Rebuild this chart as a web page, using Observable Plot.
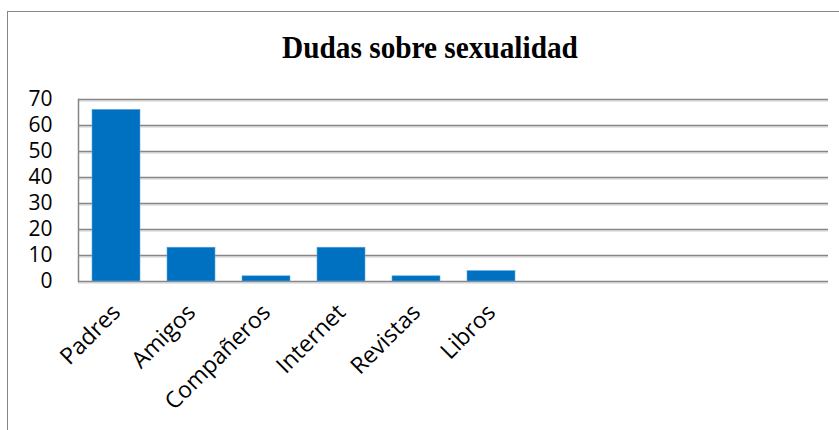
<!DOCTYPE html>
<html>
<head>
<meta charset="utf-8">
<script src="https://cdn.jsdelivr.net/npm/d3@7"></script>
<script src="https://cdn.jsdelivr.net/npm/@observablehq/plot@0.6"></script>
<style>
  html, body { margin: 0; padding: 0; background: white; }
  #wrap { position: relative; width: 839px; height: 430px; overflow: hidden; }
  #chart { position: absolute; left: 0; top: 0; }
  #border { position: absolute; left: 7px; top: 11px; width: 900px; height: 500px;
            border: 1.5px solid #868686; box-sizing: border-box; pointer-events: none; }
  #title { position: absolute; left: 0; top: 30px; width: 860px; text-align: center;
           font-family: "Liberation Serif", "Times New Roman", serif; font-weight: bold;
           font-size: 31px; line-height: 36px; color: #000;
           transform: scaleX(0.945); transform-origin: 430px 0; }
</style>
</head>
<body>
<div id="wrap">
  <div id="chart"></div>
  <div id="title">Dudas sobre sexualidad</div>
  <div id="border"></div>
</div>
<script>
const categories = ["Padres", "Amigos", "Compañeros", "Internet", "Revistas", "Libros"];
const values = [66, 13, 2, 13, 2, 4];
const emptySlots = ["_1", "_2", "_3", "_4"];
const yTicks = [0, 10, 20, 30, 40, 50, 60, 70];

const data = categories.map((c, i) => ({category: c, value: values[i]}));

const chart = Plot.plot({
  width: 839,
  height: 430,
  marginLeft: 78,
  marginRight: 11,
  marginTop: 99,
  marginBottom: 149,
  style: {background: "transparent", fontFamily: "'Open Sans', sans-serif", fontSize: "21px", color: "#000"},
  x: {domain: [...categories, ...emptySlots], padding: 0.36, paddingOuter: 0.18},
  y: {domain: [0, 70]},
  marks: [
    Plot.ruleY(yTicks, {stroke: "#cfcfcf", strokeWidth: 1, dy: 1.5}),
    Plot.ruleY(yTicks, {stroke: "#868686", strokeWidth: 1.5}),
    Plot.frame({anchor: "left", stroke: "#868686", strokeWidth: 1.5}),
    Plot.barY(data, {x: "category", y: "value", fill: "#0070C0", stroke: "#5fa8e0", strokeWidth: 0.6}),
    Plot.axisY({ticks: yTicks, tickSize: 0, tickPadding: 26, fontSize: 21, label: null}),
    Plot.axisX({tickSize: 0, tickPadding: 27, tickRotate: -45, fontSize: 23, label: null,
      tickFormat: d => emptySlots.includes(d) ? "" : d})
  ]
});
document.getElementById("chart").appendChild(chart);
</script>
</body>
</html>
